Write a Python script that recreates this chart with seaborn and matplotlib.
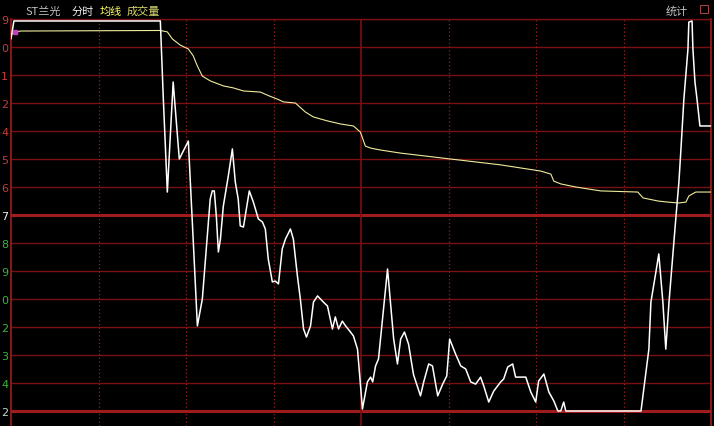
import pandas as pd
import numpy as np
import matplotlib
matplotlib.use("Agg")
import matplotlib.pyplot as plt
import seaborn as sns

# 分时数据 (分钟, 相对昨收的格数)
price_min = [0, 1.0, 51.2, 52.2, 53.6, 55.6, 57.7, 60.8, 62.5, 63.9, 65.6, 67.3, 68.3, 69.0, 69.7,
             70.4, 71.1, 71.8, 72.8, 74.5, 75.9, 76.9, 77.9, 78.6, 79.7, 80.3, 81.7, 83.1, 84.8,
             86.2, 87.2, 88.2, 89.6, 90.6, 91.7, 93.0, 94.1, 95.8, 96.8, 98.2, 99.2, 100.3, 101.3,
             102.7, 103.7, 105.1, 107.1, 108.5, 110.2, 111.2, 112.3, 113.6, 114.7, 116.4, 117.4,
             118.8, 120.5, 122.2, 123.3, 124.0, 125.0, 126.0, 129.1, 131.2, 132.5, 133.6, 134.9,
             136.3, 138.0, 140.4, 141.5, 143.2, 144.5, 146.3, 148.0, 149.4, 150.4, 152.4, 154.2,
             155.9, 157.6, 159.3, 161.0, 162.1, 163.8, 165.5, 167.9, 168.9, 170.3, 172.0, 173.0,
             176.5, 178.2, 179.9, 180.9, 182.7, 184.4, 186.1, 187.5, 188.5, 189.5, 190.2, 216.0,
             218.7, 219.4, 221.1, 222.1, 223.5, 224.5, 225.6, 228.0, 229.0, 229.7, 230.7, 232.1,
             232.4, 233.5, 233.8, 234.5, 235.2, 236.2, 240.0]
price_lvl = [6.29, 6.93, 6.93, 4.21, 0.82, 4.75, 2.0, 2.64, -0.96, -3.96, -3.0, -0.75, 0.57, 0.86, 0.86,
             -0.04, -1.32, -0.86, 0.32, 1.39, 2.36, 1.18, 0.57, -0.39, -0.43, -0.04, 0.86, 0.46, -0.14,
             -0.25, -0.5, -1.57, -2.39, -2.36, -2.46, -1.21, -0.86, -0.5, -0.86, -2.18, -3.0, -4.07, -4.36,
             -3.96, -3.11, -2.89, -3.11, -3.25, -4.07, -3.64, -4.07, -3.79, -3.96, -4.18, -4.32,
             -4.79, -6.93, -5.96, -5.79, -5.96, -5.39, -5.14, -1.93, -4.43, -5.32, -4.43, -4.18,
             -4.61, -5.7, -6.46, -5.96, -5.32, -5.39, -6.46, -6.04, -5.75, -4.43, -4.96, -5.39,
             -5.5, -5.96, -6.04, -5.79, -6.11, -6.68, -6.29, -5.96, -5.86, -5.43, -5.32, -5.79,
             -5.79, -6.32, -6.68, -5.93, -5.68, -6.32, -6.64, -7.0, -7.0, -6.68, -7.0, -7.0,
             -4.79, -3.11, -2.04, -1.39, -3.11, -4.79, -3.11, -0.04, 1.18, 2.36, 4.14, 5.93,
             6.89, 6.93, 5.93, 4.75, 4.14, 3.18, 3.18]

# 均价线
avg_min = [0, 3.1, 51.2, 53.6, 55.3, 58.0, 60.8, 62.5, 63.9, 65.6, 68.3, 72.8, 76.2, 79.7, 85.5,
           88.6, 91.3, 93.4, 97.5, 100.9, 103.7, 108.5, 113.0, 117.4, 119.8, 121.5, 123.3, 126.7,
           133.6, 150.7, 167.9, 181.6, 185.1, 186.1, 188.5, 193.6, 202.2, 214.9, 216.7, 221.8,
           225.2, 229.0, 231.4, 232.4, 234.8, 240.0]
avg_lvl = [6.46, 6.57, 6.59, 6.54, 6.29, 6.07, 5.93, 5.68, 5.32, 4.96, 4.79, 4.61, 4.54, 4.43, 4.39,
           4.25, 4.14, 4.04, 4.0, 3.68, 3.5, 3.36, 3.25, 3.18, 2.96, 2.46, 2.39, 2.32,
           2.21, 2.0, 1.79, 1.57, 1.46, 1.21, 1.11, 1.0, 0.86, 0.82, 0.61, 0.5,
           0.46, 0.43, 0.46, 0.68, 0.82, 0.82]

# 纵轴刻度 (从上到下)
tick_lvls = [7, 6, 5, 4, 3, 2, 1, 0, -1, -2, -3, -4, -5, -6, -7]
tick_text = ['9', '0', '1', '2', '4', '5', '6', '7', '8', '9', '0', '2', '3', '4', '2']
tick_cols = ['#c83c3c'] * 7 + ['#f0f0f0'] + ['#3cb43c'] * 6 + ['#c8d8c8']

sns.set_theme(style="dark", rc={"axes.facecolor": "black", "figure.facecolor": "black"})
plt.rcParams['font.family'] = ['Noto Sans CJK SC', 'DejaVu Sans']

df_price = pd.DataFrame({'minute': price_min, 'level': price_lvl})
df_avg = pd.DataFrame({'minute': avg_min, 'level': avg_lvl})

fig = plt.figure(figsize=(7.14, 4.27), dpi=100)
ax = fig.add_axes([11 / 714, 0, 700 / 714, 407 / 427])
ax.set_facecolor('black')

# 网格线
grid_red = '#7a1010'
for lv in tick_lvls:
    if lv in (0, -7):
        ax.axhline(lv, color='#a01c1c', lw=2.2, zorder=1)
    else:
        ax.axhline(lv, color=grid_red, lw=1.0, zorder=1)
for m in [30, 60, 90, 150, 180, 210]:
    ax.axvline(m, color='#9a2020', lw=0.9, ls=(0, (1, 2)), zorder=1)
ax.axvline(120, color=grid_red, lw=1.2, zorder=1)

sns.lineplot(data=df_avg, x='minute', y='level', ax=ax, color='#f0eb9a', lw=0.8,
             estimator=None, sort=False, zorder=3)
sns.lineplot(data=df_price, x='minute', y='level', ax=ax, color='white', lw=1.1,
             estimator=None, sort=False, zorder=4)
ax.plot([1.3], [6.55], marker='s', ms=3, color='#c040c0', zorder=5)

ax.set_xlim(0, 240)
ax.set_ylim(-7.536, 7.0)
ax.set_xticks([])
ax.set_yticks(tick_lvls)
ax.set_yticklabels(tick_text, fontsize=8, family=['DejaVu Sans'])
for lab, c in zip(ax.get_yticklabels(), tick_cols):
    lab.set_color(c)
ax.tick_params(axis='y', length=0, pad=2)
ax.set_xlabel('')
ax.set_ylabel('')
for side in ['left', 'right']:
    ax.spines[side].set_color('#a01c1c')
    ax.spines[side].set_linewidth(1.2)
ax.spines['top'].set_color(grid_red)
ax.spines['top'].set_linewidth(1.0)
ax.spines['bottom'].set_visible(False)

# 标题栏
fig.text(25 / 714, 1 - 12 / 427, 'ST兰光', color='#c0c0c0', fontsize=8, va='center')
fig.text(72 / 714, 1 - 12 / 427, '分时', color='#f0f0f0', fontsize=8, va='center')
fig.text(100 / 714, 1 - 12 / 427, '均线', color='#ffff66', fontsize=8, va='center')
fig.text(127 / 714, 1 - 12 / 427, '成交量', color='#d8d870', fontsize=8, va='center')
fig.text(666 / 714, 1 - 11 / 427, '统计', color='#c0c0c0', fontsize=8, va='center')
fig.patches.append(plt.Rectangle((700 / 714, 1 - 14 / 427), 8 / 714, 8 / 427, fill=False,
                                 edgecolor='#a04040', lw=0.8, transform=fig.transFigure))

fig.savefig('out.png', dpi=100, facecolor='black')
